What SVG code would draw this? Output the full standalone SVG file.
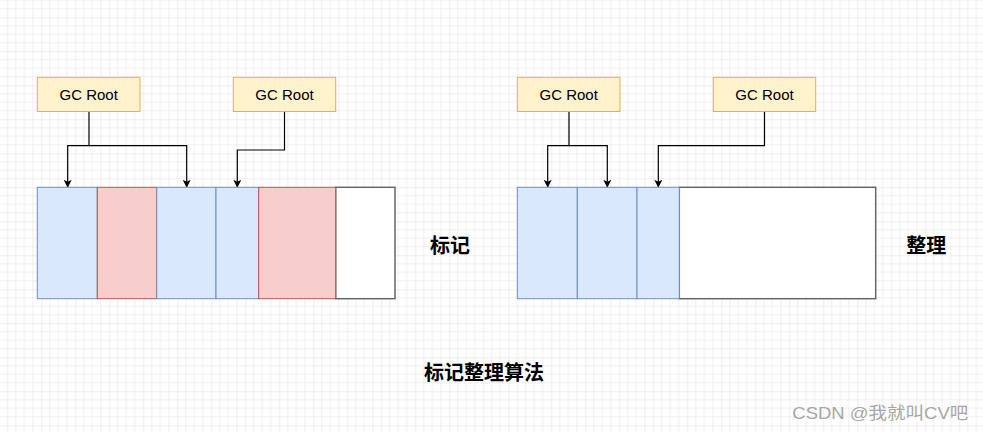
<svg xmlns="http://www.w3.org/2000/svg" width="983" height="432" viewBox="0 0 983 432">
  <defs>
    <pattern id="grid" patternUnits="userSpaceOnUse" x="7.3" y="17.3" width="34" height="34">
      <path d="M8.5 0V34M17 0V34M25.5 0V34M0 8.5H34M0 17H34M0 25.5H34" stroke="#efefef" stroke-width="1" fill="none"/>
      <path d="M0 0V34M0 0H34" stroke="#dedede" stroke-width="1" fill="none"/>
    </pattern>
    <marker id="arr" viewBox="0 0 10 10" refX="9" refY="5" markerWidth="8" markerHeight="8" markerUnits="userSpaceOnUse" orient="auto">
      <path d="M0 0L10 5L0 10L2.5 5Z" fill="#000"/>
    </marker>
  </defs>
  <style>
    .root rect { fill: #fff2cc; stroke: #d6b656; stroke-width: 1; }
    .root text { font-family: "Liberation Sans", Arial, sans-serif; font-size: 15px; fill: #000; text-anchor: middle; dominant-baseline: central; }
    .blue { fill: #dae8fc; stroke: #6c8ebf; stroke-width: 1; }
    .red { fill: #f8cecc; stroke: #b85450; stroke-width: 1; }
    .free { fill: #ffffff; stroke: #666666; stroke-width: 1.5; }
    .conn path { fill: none; stroke: #000; stroke-width: 1.2; marker-end: url(#arr); }
    .label { font-family: "Noto Sans CJK SC", "Liberation Sans", sans-serif; font-size: 20px; font-weight: bold; fill: #000; text-anchor: middle; dominant-baseline: central; }
    .wm { font-family: "Liberation Sans", "Noto Sans CJK SC", sans-serif; font-size: 17px; fill: #a6a6a6; }
  </style>
  <rect width="983" height="432" fill="#ffffff"/>
  <rect width="983" height="432" fill="url(#grid)"/>

  <g id="conns" class="conn">
    <path d="M89 111.5V145.7H67.7V187"/>
    <path d="M89 145.7H186.7V187"/>
    <path d="M284.5 111.5V150H237.3V187"/>
    <path d="M569 111.5V145.7H547.7V187"/>
    <path d="M569 145.7H607.3V187"/>
    <path d="M764.5 111.5V145.7H658.3V187"/>
  </g>

  <g id="root-l1" class="root">
    <rect x="37.3" y="77.3" width="102.7" height="34.2"/>
    <text x="88.7" y="94.4">GC Root</text>
  </g>
  <g id="root-l2" class="root">
    <rect x="233.3" y="77.3" width="102.4" height="34.2"/>
    <text x="284.5" y="94.4">GC Root</text>
  </g>
  <g id="root-r1" class="root">
    <rect x="517.3" y="77.3" width="102.7" height="34.2"/>
    <text x="568.7" y="94.4">GC Root</text>
  </g>
  <g id="root-r2" class="root">
    <rect x="713.3" y="77.3" width="102.4" height="34.2"/>
    <text x="764.5" y="94.4">GC Root</text>
  </g>

  <g id="heap-mark">
    <rect class="free" x="335.7" y="187.3" width="59.3" height="111.4"/>
    <rect class="blue" x="37.3" y="187.3" width="60" height="111.4"/>
    <rect class="red" x="97.3" y="187.3" width="59.4" height="111.4"/>
    <rect class="blue" x="156.7" y="187.3" width="59.3" height="111.4"/>
    <rect class="blue" x="216" y="187.3" width="42.7" height="111.4"/>
    <rect class="red" x="258.7" y="187.3" width="77" height="111.4"/>
  </g>

  <g id="heap-compact">
    <rect class="free" x="679.3" y="187.3" width="196.4" height="111.4"/>
    <rect class="blue" x="517.3" y="187.3" width="60" height="111.4"/>
    <rect class="blue" x="577.3" y="187.3" width="59.7" height="111.4"/>
    <rect class="blue" x="637" y="187.3" width="42.3" height="111.4"/>
  </g>

  <g id="label-mark"><text class="label" x="449.9" y="244">标记</text></g>
  <g id="label-compact"><text class="label" x="926.2" y="244">整理</text></g>
  <g id="title"><text class="label" x="484.1" y="371.7">标记整理算法</text></g>

  <g id="watermark">
    <text class="wm" x="793.3" y="420" textLength="176" lengthAdjust="spacingAndGlyphs" style="fill:#ffffff">CSDN @我就叫CV吧</text>
    <text class="wm" x="792.3" y="419" textLength="176" lengthAdjust="spacingAndGlyphs">CSDN @我就叫CV吧</text>
  </g>
</svg>
